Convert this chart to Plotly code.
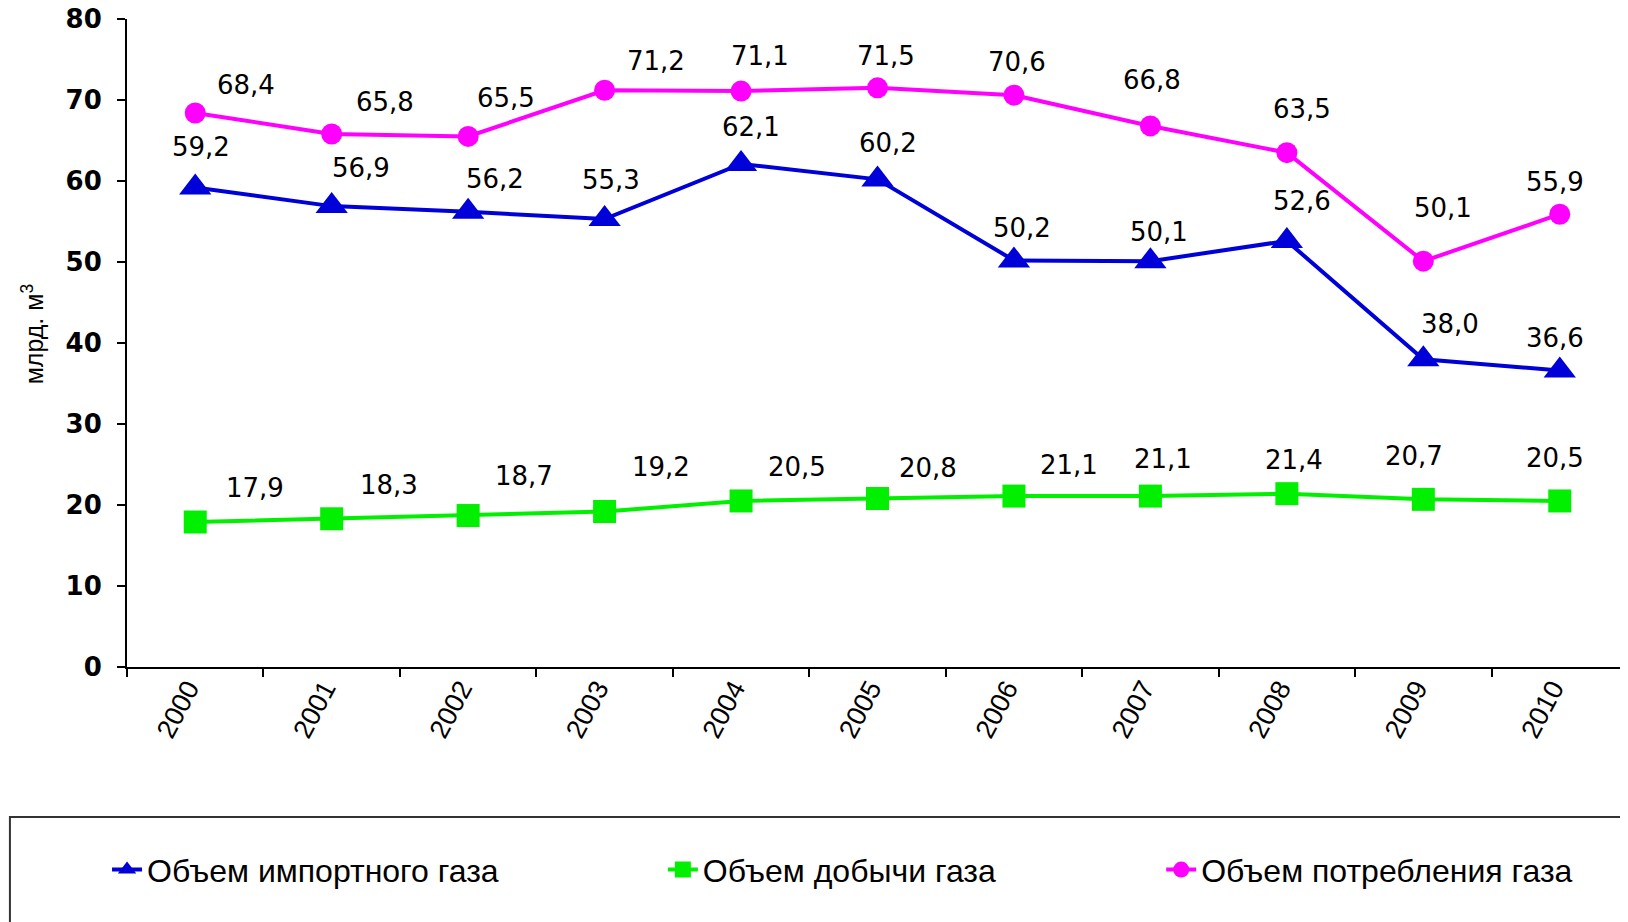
import plotly.graph_objects as go

years = ["2000", "2001", "2002", "2003", "2004", "2005", "2006", "2007", "2008", "2009", "2010"]
import_gas = [59.2, 56.9, 56.2, 55.3, 62.1, 60.2, 50.2, 50.1, 52.6, 38.0, 36.6]
production_gas = [17.9, 18.3, 18.7, 19.2, 20.5, 20.8, 21.1, 21.1, 21.4, 20.7, 20.5]
consumption_gas = [68.4, 65.8, 65.5, 71.2, 71.1, 71.5, 70.6, 66.8, 63.5, 50.1, 55.9]

names = ["Объем импортного газа", "Объем добычи газа", "Объем потребления газа"]

# label offsets (pixels) for the data labels
off_import = [(6, 40), (29, 38), (27, 33), (6, 39), (10, 37), (10, 36), (8, 32), (9, 29), (15, 40), (27, 35), (-5, 33)]
off_prod = [(60, 34), (57, 34), (56, 40), (56, 44), (56, 34), (50, 31), (55, 31), (13, 37), (7, 34), (-9, 43), (-5, 43)]
off_cons = [(51, 28), (53, 32), (38, 38), (51, 29), (19, 35), (8, 32), (3, 33), (2, 46), (15, 44), (20, 53), (-5, 32)]

BLUE = "#0000D8"
GREEN = "#00F000"
PINK = "#FF00FF"

fig = go.Figure()
series = [
    (import_gas, names[0], BLUE, "triangle-up", 28, "legend", off_import),
    (production_gas, names[1], GREEN, "square", 23, "legend2", off_prod),
    (consumption_gas, names[2], PINK, "circle", 21, "legend3", off_cons),
]
for vals, name, col, sym, sz, lg, offs in series:
    fig.add_trace(go.Scatter(
        x=years, y=vals, name=name, mode="lines+markers",
        line=dict(color=col, width=4),
        marker=dict(symbol=sym, size=sz, color=col),
        legend=lg,
    ))
    for i, (v, (dx, dy)) in enumerate(zip(vals, offs)):
        fig.add_annotation(
            x=i, y=v, xref="x", yref="y", text=f"{v:.1f}".replace(".", ","), showarrow=False,
            xshift=dx, yshift=dy,
            font=dict(family="DejaVu Sans", size=26, color="black"),
        )

fig.add_annotation(
    xref="paper", yref="paper", x=-0.063, y=0.514, xanchor="center", yanchor="middle",
    text="млрд. м<sup>3</sup>", textangle=-90, showarrow=False,
    font=dict(family="Liberation Sans", size=25, color="black"),
)

# legend frame
fig.add_shape(type="rect", xref="paper", yref="paper", x0=-0.078, x1=1.05, y0=-0.6, y1=-0.2315,
              line=dict(color="#333333", width=2), fillcolor="rgba(0,0,0,0)")

legfont = dict(family="Liberation Sans", size=32, color="black")
common = dict(orientation="h", yanchor="middle", y=-0.313, xanchor="left", font=legfont,
              bgcolor="rgba(0,0,0,0)", borderwidth=0, itemwidth=30)

fig.update_layout(
    width=1628, height=922,
    margin=dict(l=119, r=8, t=11, b=263, autoexpand=False),
    plot_bgcolor="white", paper_bgcolor="white",
    showlegend=True,
    legend=dict(x=-0.0133, **common),
    legend2=dict(x=0.357, **common),
    legend3=dict(x=0.689, **common),
    xaxis=dict(
        type="category", range=[-0.5, 10.5], tickson="boundaries", automargin=False,
        ticks="outside", ticklen=8, tickwidth=2, tickcolor="black",
        showline=True, linecolor="black", linewidth=2, showgrid=False,
        tickangle=-62, tickfont=dict(family="Liberation Sans", size=27, color="black"),
        ticklabelstandoff=-7, ticklabelshift=-7,
        zeroline=False,
    ),
    yaxis=dict(
        range=[0, 80], dtick=10, ticks="outside", ticklen=8, tickwidth=2, tickcolor="black",
        showline=True, linecolor="black", linewidth=2, showgrid=False, zeroline=False,
        automargin=False,
        tickfont=dict(family="DejaVu Sans", size=26, color="black", weight="bold"),
        ticklabelstandoff=10, ticklabeloverflow="allow",
    ),
)

fig.write_html("out.html")
